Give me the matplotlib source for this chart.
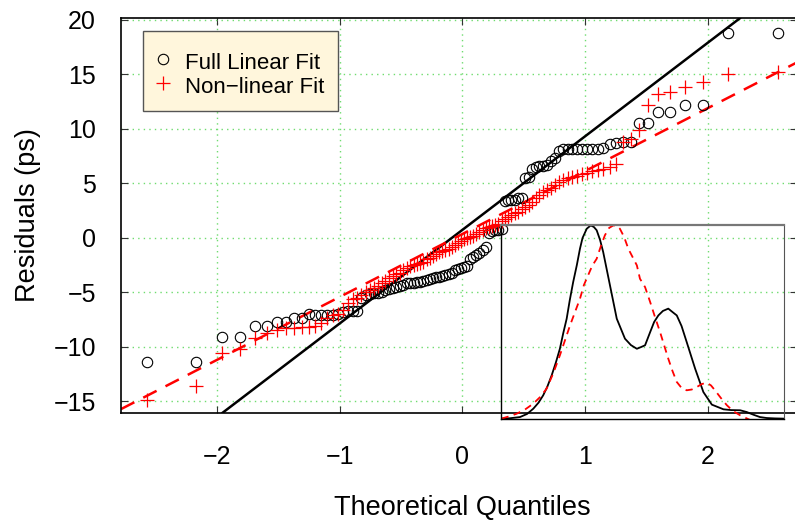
import matplotlib
matplotlib.use("Agg")
import matplotlib.pyplot as plt
import numpy as np
from statistics import NormalDist

plt.rcParams['font.family'] = ['Liberation Sans', 'DejaVu Sans']

# sorted residuals (ps), 100 each
full_linear = [
    -11.4, -11.4, -9.1, -9.1, -8.1, -8.1, -7.7, -7.7, -7.4, -7.4,
    -7.0, -7.1, -7.1, -7.05, -7.05, -7.0, -6.8, -6.7, -6.7, -6.7,
    -5.5, -5.3, -5.2, -5.1, -5.1, -5.0, -4.8, -4.7, -4.6, -4.5,
    -4.4, -4.3, -4.2, -4.2, -4.2, -4.1, -4.1, -4.0, -3.9, -3.8,
    -3.7, -3.6, -3.6, -3.5, -3.4, -3.3, -3.2, -3.0, -2.9, -2.8,
    -2.7, -2.6, -2.0, -1.8, -1.6, -1.4, -1.1, -0.9, 0.4, 0.6,
    0.7, 0.7, 0.8, 3.4, 3.5, 3.5, 3.5, 3.6, 3.6, 5.5,
    5.6, 6.3, 6.5, 6.6, 6.6, 6.7, 7.0, 7.3, 8.0, 8.1,
    8.1, 8.1, 8.1, 8.1, 8.1, 8.1, 8.1, 8.2, 8.6, 8.7,
    8.8, 8.8, 10.5, 10.5, 11.5, 11.5, 12.2, 12.2, 18.75, 18.75,
]
non_linear = [
    -14.9, -13.6, -10.6, -10.2, -9.2, -8.75, -8.5, -8.3, -8.3, -8.2,
    -8.2, -8.1, -7.8, -7.4, -7.1, -7.0, -6.6, -6.0, -5.6, -5.5,
    -5.3, -5.0, -4.8, -4.6, -4.4, -4.2, -4.0, -3.7, -3.5, -3.3,
    -3.2, -3.0, -2.8, -2.6, -2.5, -2.4, -2.3, -2.2, -2.0, -1.9,
    -1.7, -1.5, -1.3, -1.2, -1.1, -1.0, -0.9, -0.7, -0.5, -0.3,
    -0.1, 0.0, 0.1, 0.2, 0.3, 0.5, 0.7, 0.9, 1.0, 1.1,
    1.2, 1.3, 1.5, 1.7, 1.9, 2.1, 2.3, 2.4, 2.6, 2.8,
    3.0, 3.3, 3.6, 3.9, 4.2, 4.4, 4.6, 4.8, 5.1, 5.3,
    5.5, 5.6, 5.7, 5.8, 5.9, 6.1, 6.2, 6.3, 6.5, 6.8,
    8.8, 9.1, 9.9, 12.2, 13.2, 13.4, 13.8, 14.3, 15.0, 15.2,
]

# qq reference lines (intercept, slope)
full_line = (0.72, 8.58)
nonlin_line = (0.34, 5.77)

# inset density curves (normalised inset units)
dens_full_x = [0.002, 0.032, 0.067, 0.092, 0.114, 0.133, 0.149, 0.164, 0.179, 0.194,
               0.208, 0.220, 0.232, 0.243, 0.255, 0.268, 0.279, 0.288, 0.303, 0.317,
               0.328, 0.338, 0.350, 0.361, 0.385, 0.409, 0.438, 0.459, 0.480, 0.495,
               0.509, 0.527, 0.541, 0.556, 0.572, 0.591, 0.608, 0.621, 0.638, 0.656,
               0.686, 0.715, 0.745, 0.786, 0.813, 0.845, 0.868, 0.892, 0.915, 0.939,
               0.968, 0.998]
dens_full_y = [0.002, 0.004, 0.010, 0.026, 0.053, 0.085, 0.122, 0.168, 0.225, 0.292,
               0.362, 0.443, 0.517, 0.613, 0.706, 0.794, 0.878, 0.933, 0.981, 0.998,
               0.990, 0.973, 0.923, 0.861, 0.689, 0.517, 0.414, 0.381, 0.362, 0.371,
               0.380, 0.448, 0.500, 0.534, 0.557, 0.569, 0.549, 0.534, 0.479, 0.397,
               0.259, 0.139, 0.074, 0.050, 0.046, 0.045, 0.036, 0.022, 0.010, 0.005,
               0.003, 0.002]
dens_nl_x = [0.002, 0.027, 0.055, 0.085, 0.114, 0.138, 0.161, 0.185, 0.208, 0.244,
             0.279, 0.293, 0.322, 0.338, 0.353, 0.367, 0.382, 0.397, 0.410, 0.420,
             0.435, 0.450, 0.480, 0.491, 0.509, 0.527, 0.544, 0.562, 0.591, 0.606,
             0.621, 0.638, 0.656, 0.674, 0.692, 0.709, 0.727, 0.742, 0.756, 0.777,
             0.798, 0.820, 0.845, 0.880, 0.915]
dens_nl_y = [0.002, 0.013, 0.027, 0.049, 0.079, 0.113, 0.156, 0.237, 0.328, 0.483,
             0.620, 0.691, 0.789, 0.826, 0.892, 0.947, 0.985, 0.998, 0.995, 0.981,
             0.938, 0.877, 0.792, 0.723, 0.680, 0.603, 0.526, 0.448, 0.311, 0.247,
             0.191, 0.160, 0.148, 0.152, 0.165, 0.180, 0.187, 0.173, 0.148, 0.108,
             0.071, 0.041, 0.019, -0.005, -0.021]

n = len(full_linear)
theo = [NormalDist().inv_cdf((i + 0.5) / n) for i in range(n)]

fig = plt.figure(figsize=(7.95, 5.25), dpi=100)
ax = fig.add_axes([0.1522, 0.2139, 0.8508, 0.7512])

ax.grid(True, color='#6fdc6f', linestyle=(0, (1, 3)), linewidth=1)
ax.set_axisbelow(True)

ax.axline((0, full_line[0]), slope=full_line[1], color='black', lw=1.8, zorder=2)
ax.axline((0, nonlin_line[0]), slope=nonlin_line[1], color='red', lw=1.8,
          dashes=(6, 4), zorder=2)

ax.plot(theo, full_linear, 'o', mfc='none', mec='black', ms=7.5, mew=0.8,
        label='Full Linear Fit', zorder=3)
ax.plot(theo, non_linear, '+', color='red', ms=10, mew=0.9,
        label='Non\u2212linear Fit', zorder=3)

ax.set_xlim(-2.785, 2.732)
ax.set_ylim(-16.06, 20.13)
ax.set_xticks([-2, -1, 0, 1, 2])
ax.set_yticks([-15, -10, -5, 0, 5, 10, 15, 20])
ax.set_xticklabels(['\u22122', '\u22121', '0', '1', '2'])
ax.set_yticklabels(['\u221215', '\u221210', '\u22125', '0', '5', '10', '15', '20'])
ax.tick_params(direction='in', length=5, width=0.8, top=True, right=True,
               labelsize=18, colors='#333333', labelcolor='black')
ax.tick_params(axis='x', pad=23)
ax.tick_params(axis='y', pad=18)
for s in ax.spines.values():
    s.set_linewidth(1.2)

# tiny blank title pushes the two rows down inside the box, as in the original
leg = ax.legend(loc='upper left', bbox_to_anchor=(0.032, 0.9686),
                borderaxespad=0, fontsize=16, frameon=True, fancybox=False,
                facecolor='#fff6dc', edgecolor='#555555', framealpha=1,
                handlelength=0.6, handletextpad=0.7, borderpad=0.6,
                handleheight=1.3, labelspacing=0.0,
                title=' ', title_fontsize=4)
leg.get_frame().set_linewidth(1.0)

fig.text(0.582, 1 - 508 / 525, 'Theoretical Quantiles', ha='center', va='center',
         fontsize=19.5)
fig.text(28 / 795, 1 - 215 / 525, 'Residuals (ps)', ha='center', va='center',
         rotation=90, fontsize=19.5)

ins = fig.add_axes([0.6302, 0.2019, 0.356, 0.3695])
ins.patch.set_alpha(0)
ins.plot(dens_full_x, dens_full_y, color='black', lw=1.3, solid_joinstyle='round')
ins.plot(dens_nl_x, dens_nl_y, color='red', lw=1.3, dashes=(4, 3))
ins.set_xlim(0, 1)
ins.set_ylim(0, 1)
ins.set_xticks([])
ins.set_yticks([])
ins.spines['top'].set_color('#777777')
ins.spines['top'].set_linewidth(1.6)
ins.spines['right'].set_color('#555555')
ins.spines['left'].set_linewidth(1.0)
ins.spines['bottom'].set_linewidth(1.0)

fig.savefig('out.png', dpi=100)
